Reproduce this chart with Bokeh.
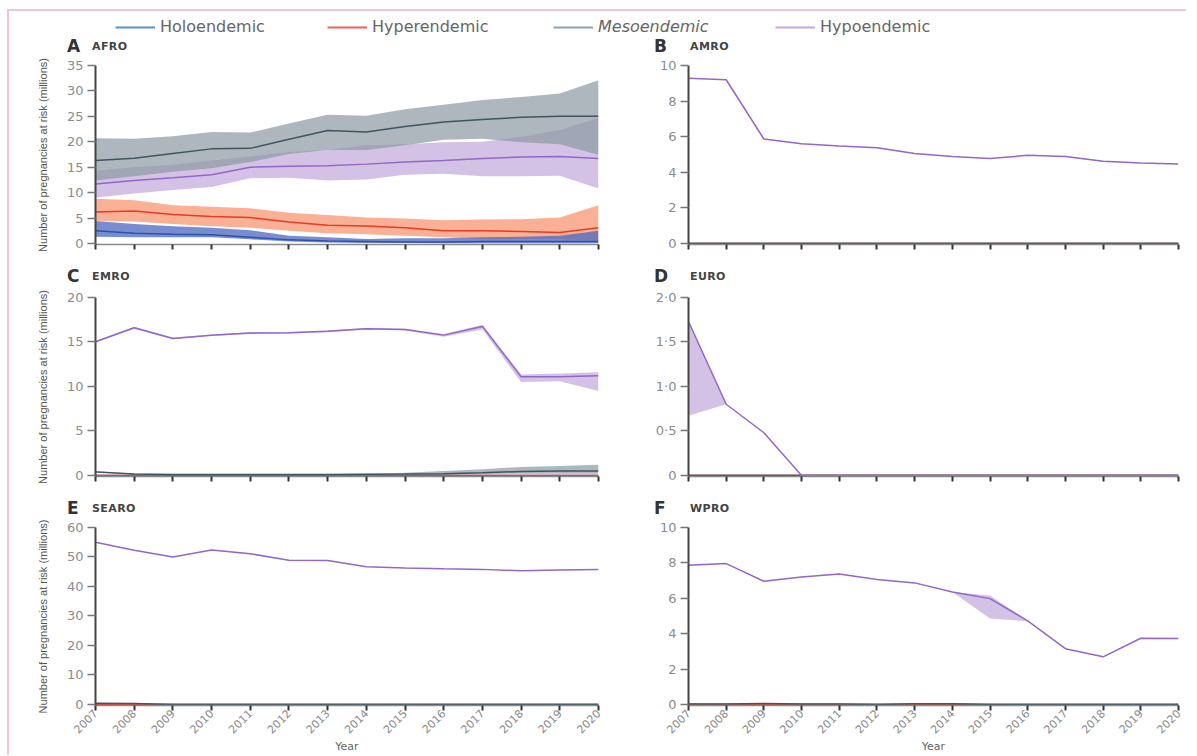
import math
from bokeh.plotting import figure
from bokeh.models import (Range1d, FixedTicker, Legend, LegendItem, Div,
                          CustomJSTickFormatter)
from bokeh.layouts import column, row
from bokeh.embed import file_html
from bokeh.resources import INLINE

# ---------------- data ----------------
years = list(range(2007, 2021))
zeros = [0.0] * 14

# A AFRO
afro_holo = [2.5, 2.0, 1.8, 1.7, 1.2, 0.7, 0.5, 0.4, 0.3, 0.3, 0.4, 0.4, 0.4, 0.4]
afro_holo_lo = [1.3, 1.2, 1.2, 1.2, 0.8, 0.4, 0.2, 0.1, 0.1, 0.05, 0.05, 0.05, 0.05, 0.05]
afro_holo_hi = [4.4, 3.8, 3.4, 3.1, 2.6, 1.5, 1.2, 0.85, 1.0, 1.0, 1.2, 1.3, 1.5, 2.5]
afro_hyper = [6.2, 6.4, 5.7, 5.3, 5.1, 4.2, 3.6, 3.45, 3.1, 2.5, 2.5, 2.35, 2.15, 3.1]
afro_hyper_lo = [4.4, 4.3, 3.8, 3.4, 3.1, 2.5, 2.0, 1.8, 1.5, 1.2, 0.85, 0.85, 0.85, 0.5]
afro_hyper_hi = [8.8, 8.5, 7.5, 7.2, 6.9, 6.05, 5.6, 5.1, 4.9, 4.55, 4.7, 4.75, 5.1, 7.5]
afro_meso = [16.3, 16.75, 17.7, 18.6, 18.7, 20.5, 22.2, 21.9, 23.0, 23.9, 24.4, 24.8, 25.0, 25.0]
afro_meso_lo = [12.4, 13.2, 14.1, 14.8, 16.0, 17.6, 18.4, 18.4, 19.3, 20.4, 20.6, 19.9, 19.5, 17.4]
afro_meso_hi = [20.7, 20.6, 21.1, 21.9, 21.8, 23.6, 25.3, 25.1, 26.4, 27.3, 28.2, 28.8, 29.5, 32.1]
afro_hypo = [11.7, 12.4, 12.9, 13.5, 15.0, 15.2, 15.3, 15.6, 16.0, 16.3, 16.7, 17.0, 17.1, 16.7]
afro_hypo_lo = [9.0, 9.8, 10.5, 11.1, 12.8, 12.9, 12.4, 12.6, 13.5, 13.7, 13.2, 13.2, 13.3, 10.8]
afro_hypo_hi = [14.3, 15.0, 15.5, 16.3, 17.1, 18.0, 18.4, 19.3, 19.5, 19.9, 20.0, 21.0, 22.3, 24.7]

# B AMRO
amro_hypo = [9.29, 9.2, 5.87, 5.6, 5.47, 5.38, 5.05, 4.88, 4.77, 4.95, 4.88, 4.62, 4.52, 4.47]

# C EMRO
emro_hypo = [15.03, 16.6, 15.4, 15.77, 16.0, 16.04, 16.2, 16.5, 16.4, 15.77, 16.75, 11.1, 11.1, 11.2]
emro_hypo_lo = [14.95, 16.5, 15.3, 15.7, 15.9, 15.95, 16.1, 16.4, 16.3, 15.6, 16.4, 10.5, 10.6, 9.5]
emro_hypo_hi = [15.1, 16.7, 15.5, 15.85, 16.1, 16.1, 16.3, 16.6, 16.5, 15.9, 16.95, 11.35, 11.45, 11.6]
emro_meso = [0.4, 0.15, 0.1, 0.1, 0.1, 0.1, 0.1, 0.12, 0.15, 0.2, 0.3, 0.45, 0.5, 0.5]
emro_meso_lo = [0.3, 0.1, 0.05, 0.05, 0.05, 0.05, 0.05, 0.05, 0.08, 0.1, 0.15, 0.2, 0.2, 0.2]
emro_meso_hi = [0.5, 0.2, 0.15, 0.15, 0.15, 0.15, 0.15, 0.2, 0.3, 0.5, 0.7, 0.95, 1.05, 1.2]

# D EURO
euro_hypo = [1.73, 0.80, 0.48, 0, 0, 0, 0, 0, 0, 0, 0, 0, 0, 0]
euro_hypo_lo = [0.67, 0.80, 0.48, 0, 0, 0, 0, 0, 0, 0, 0, 0, 0, 0]

# E SEARO
searo_hypo = [55.0, 52.3, 50.0, 52.4, 51.1, 48.9, 48.8, 46.7, 46.3, 46.0, 45.8, 45.3, 45.6, 45.8]
searo_meso = [0.4, 0.3, 0, 0, 0, 0, 0, 0, 0, 0, 0, 0, 0, 0]

# F WPRO
wpro_hypo = [7.87, 7.96, 6.96, 7.2, 7.37, 7.06, 6.87, 6.35, 5.98, 4.72, 3.15, 2.69, 3.74, 3.72]
wpro_hypo_lo = [7.87, 7.96, 6.96, 7.2, 7.37, 7.06, 6.87, 6.35, 4.85, 4.7, 3.15, 2.69, 3.74, 3.72]
wpro_hypo_hi = [7.87, 7.96, 6.96, 7.2, 7.37, 7.06, 6.87, 6.35, 6.15, 4.75, 3.15, 2.69, 3.74, 3.72]
wpro_meso = [0.03, 0.03, 0.06, 0.03, 0.03, 0.0, 0.04, 0.04, 0, 0, 0, 0, 0, 0]

series_names = ["Holoendemic", "Hyperendemic", "Mesoendemic", "Hypoendemic"]
legend_data = [afro_holo, afro_hyper, afro_meso, afro_hypo]

# ---------------- styles ----------------
LINE = {"holo": "#2c52b0", "hyper": "#e63b26", "meso": "#3f5560", "hypo": "#9466c8"}
BAND = {"holo": ("#4a67c0", 0.75), "hyper": ("#f78e68", 0.7),
        "meso": ("#8e9ba3", 0.72), "hypo": ("#b89ad6", 0.6)}
LEG = {"Holoendemic": "#5b8ed6", "Hyperendemic": "#f0605a",
       "Mesoendemic": "#8ea2b0", "Hypoendemic": "#c6a6e6"}
FONT = "DejaVu Sans"

LEFT_W, RIGHT_W = 599, 578


def title_div(letter, name, is_left):
    W = LEFT_W if is_left else RIGHT_W
    lx, nx = (58, 83) if is_left else (46, 82)
    html = (
        '<div style="position:relative;width:%dpx;height:18px;">'
        '<span style="position:absolute;left:%dpx;top:0px;font-family:\'DejaVu Sans\';'
        'font-weight:bold;font-size:17px;line-height:18px;color:#333;">%s</span>'
        '<span style="position:absolute;left:%dpx;top:1px;font-family:\'DejaVu Sans\';'
        'font-weight:bold;font-size:11px;line-height:18px;color:#444;letter-spacing:0.4px;">%s</span>'
        '</div>' % (W, lx, letter, nx, name))
    return Div(text=html, width=W, height=18, margin=(0, 0, 0, 0))


def panel(yend, ystep, data, is_left, is_bottom, top, dot_fmt=False):
    if is_left:
        W, L, R = LEFT_W, 86, 10
    else:
        W, L, R = RIGHT_W, 80, 8
    FH = 178 if is_bottom else 179
    B = 50 if is_bottom else 23
    H = top + FH + B
    p = figure(width=W, height=H, x_range=Range1d(2007, 2020),
               y_range=Range1d(-yend * 0.006, yend),
               output_backend="svg", toolbar_location=None,
               min_border_left=L, min_border_right=R,
               min_border_top=top, min_border_bottom=B)
    p.outline_line_color = None
    p.xgrid.visible = False
    p.ygrid.visible = False

    for key in ["hypo", "meso", "hyper", "holo"]:
        mid, lo, hi = data[key]
        col, a = BAND[key]
        if lo is not mid or hi is not mid:
            p.varea(x=years, y1=lo, y2=hi, fill_color=col, fill_alpha=a)
    for key in ["holo", "hyper", "meso", "hypo"]:
        mid, lo, hi = data[key]
        p.line(x=years, y=mid, line_color=LINE[key], line_width=1.5)

    xa = p.xaxis[0]
    xa.ticker = FixedTicker(ticks=years)
    xa.axis_line_color = "#8a8a8a"
    xa.axis_line_width = 1.5
    xa.major_tick_line_color = "#333333"
    xa.major_tick_line_width = 2
    xa.major_tick_out = 5
    xa.major_tick_in = 0
    xa.minor_tick_line_color = None
    xa.major_label_text_font = FONT
    xa.major_label_text_font_size = "11px"
    if is_bottom:
        xa.major_label_orientation = math.pi / 4
        xa.major_label_text_color = "#8a8a8a"
        xa.major_label_standoff = 1
        xa.axis_label = "Year"
        xa.axis_label_text_font = FONT
        xa.axis_label_text_font_size = "11px"
        xa.axis_label_text_font_style = "normal"
        xa.axis_label_text_color = "#666666"
        xa.axis_label_standoff = 0
    else:
        xa.major_label_text_color = None
        xa.major_label_standoff = 0

    ya = p.yaxis[0]
    ticks = []
    v = 0.0
    while v <= yend + 1e-9:
        ticks.append(round(v, 3))
        v += ystep
    ya.ticker = FixedTicker(ticks=ticks)
    ya.axis_line_color = "#444444"
    ya.axis_line_width = 2
    ya.major_tick_line_color = "#777777"
    ya.major_tick_line_width = 1.5
    ya.major_tick_out = 8
    ya.major_tick_in = 0
    ya.minor_tick_line_color = None
    ya.major_label_text_font = FONT
    ya.major_label_text_font_size = "13px"
    ya.major_label_text_color = "#8c8c8c"
    ya.major_label_standoff = 4
    if dot_fmt:
        ya.formatter = CustomJSTickFormatter(
            code="return tick === 0 ? '0' : tick.toFixed(1).replace('.', '\u00b7');")
    if is_left:
        ya.axis_label = "Number of pregnancies at risk (millions)"
        ya.axis_label_text_font = "Liberation Sans"
        ya.axis_label_text_font_size = "11px"
        ya.axis_label_text_font_style = "normal"
        ya.axis_label_text_color = "#555555"
        ya.axis_label_standoff = 15
    return p


def s(mid, lo=None, hi=None):
    return (mid, lo if lo is not None else mid, hi if hi is not None else mid)


pA = panel(35, 5, {
    "holo": s(afro_holo, afro_holo_lo, afro_holo_hi),
    "hyper": s(afro_hyper, afro_hyper_lo, afro_hyper_hi),
    "meso": s(afro_meso, afro_meso_lo, afro_meso_hi),
    "hypo": s(afro_hypo, afro_hypo_lo, afro_hypo_hi)}, True, False, 10)
pB = panel(10, 2, {
    "holo": s(zeros), "hyper": s(zeros), "meso": s(zeros),
    "hypo": s(amro_hypo)}, False, False, 10)
pC = panel(20, 5, {
    "holo": s(zeros), "hyper": s(zeros),
    "meso": s(emro_meso, emro_meso_lo, emro_meso_hi),
    "hypo": s(emro_hypo, emro_hypo_lo, emro_hypo_hi)}, True, False, 12)
pD = panel(2.0, 0.5, {
    "holo": s(zeros), "hyper": s(zeros), "meso": s(zeros),
    "hypo": s(euro_hypo, euro_hypo_lo, euro_hypo)}, False, False, 12, dot_fmt=True)
pE = panel(60, 10, {
    "holo": s(zeros), "hyper": s(zeros), "meso": s(searo_meso),
    "hypo": s(searo_hypo)}, True, True, 10)
pF = panel(10, 2, {
    "holo": s(zeros), "hyper": s(zeros), "meso": s(wpro_meso),
    "hypo": s(wpro_hypo, wpro_hypo_lo, wpro_hypo_hi)}, False, True, 10)

# ---------------- legend strip ----------------
lp = figure(width=LEFT_W + RIGHT_W, height=26, x_range=Range1d(0, 1), y_range=Range1d(0, 1),
            output_backend="svg", toolbar_location=None,
            min_border_left=0, min_border_right=0, min_border_top=0, min_border_bottom=0)
lp.axis.visible = False
lp.xgrid.visible = False
lp.ygrid.visible = False
lp.outline_line_color = None
leg_x = [106, 318, 544, 766]
for nm, vals, lx in zip(series_names, legend_data, leg_x):
    r = lp.line(x=years, y=vals, line_color=LEG[nm], line_width=2)
    lg = Legend(items=[LegendItem(label=nm, renderers=[r])], location=(lx, 1),
                orientation="horizontal", padding=0, margin=0, spacing=0,
                border_line_color=None, background_fill_alpha=0,
                glyph_width=40, glyph_height=16, label_height=16, label_standoff=5,
                label_text_font=FONT, label_text_font_size="16px",
                label_text_color="#666666",
                label_text_font_style="italic" if nm == "Mesoendemic" else "normal")
    lp.add_layout(lg)

layout = column(
    lp,
    row(title_div("A", "AFRO", True), title_div("B", "AMRO", False)),
    row(pA, pB),
    row(title_div("C", "EMRO", True), title_div("D", "EURO", False)),
    row(pC, pD),
    row(title_div("E", "SEARO", True), title_div("F", "WPRO", False)),
    row(pE, pF),
    styles={"margin-left": "7px", "margin-top": "9px",
            "border-left": "2px solid #f2c4cf", "border-top": "2px solid #f2c4cf"})

open("out.html", "w").write(file_html(layout, INLINE))
